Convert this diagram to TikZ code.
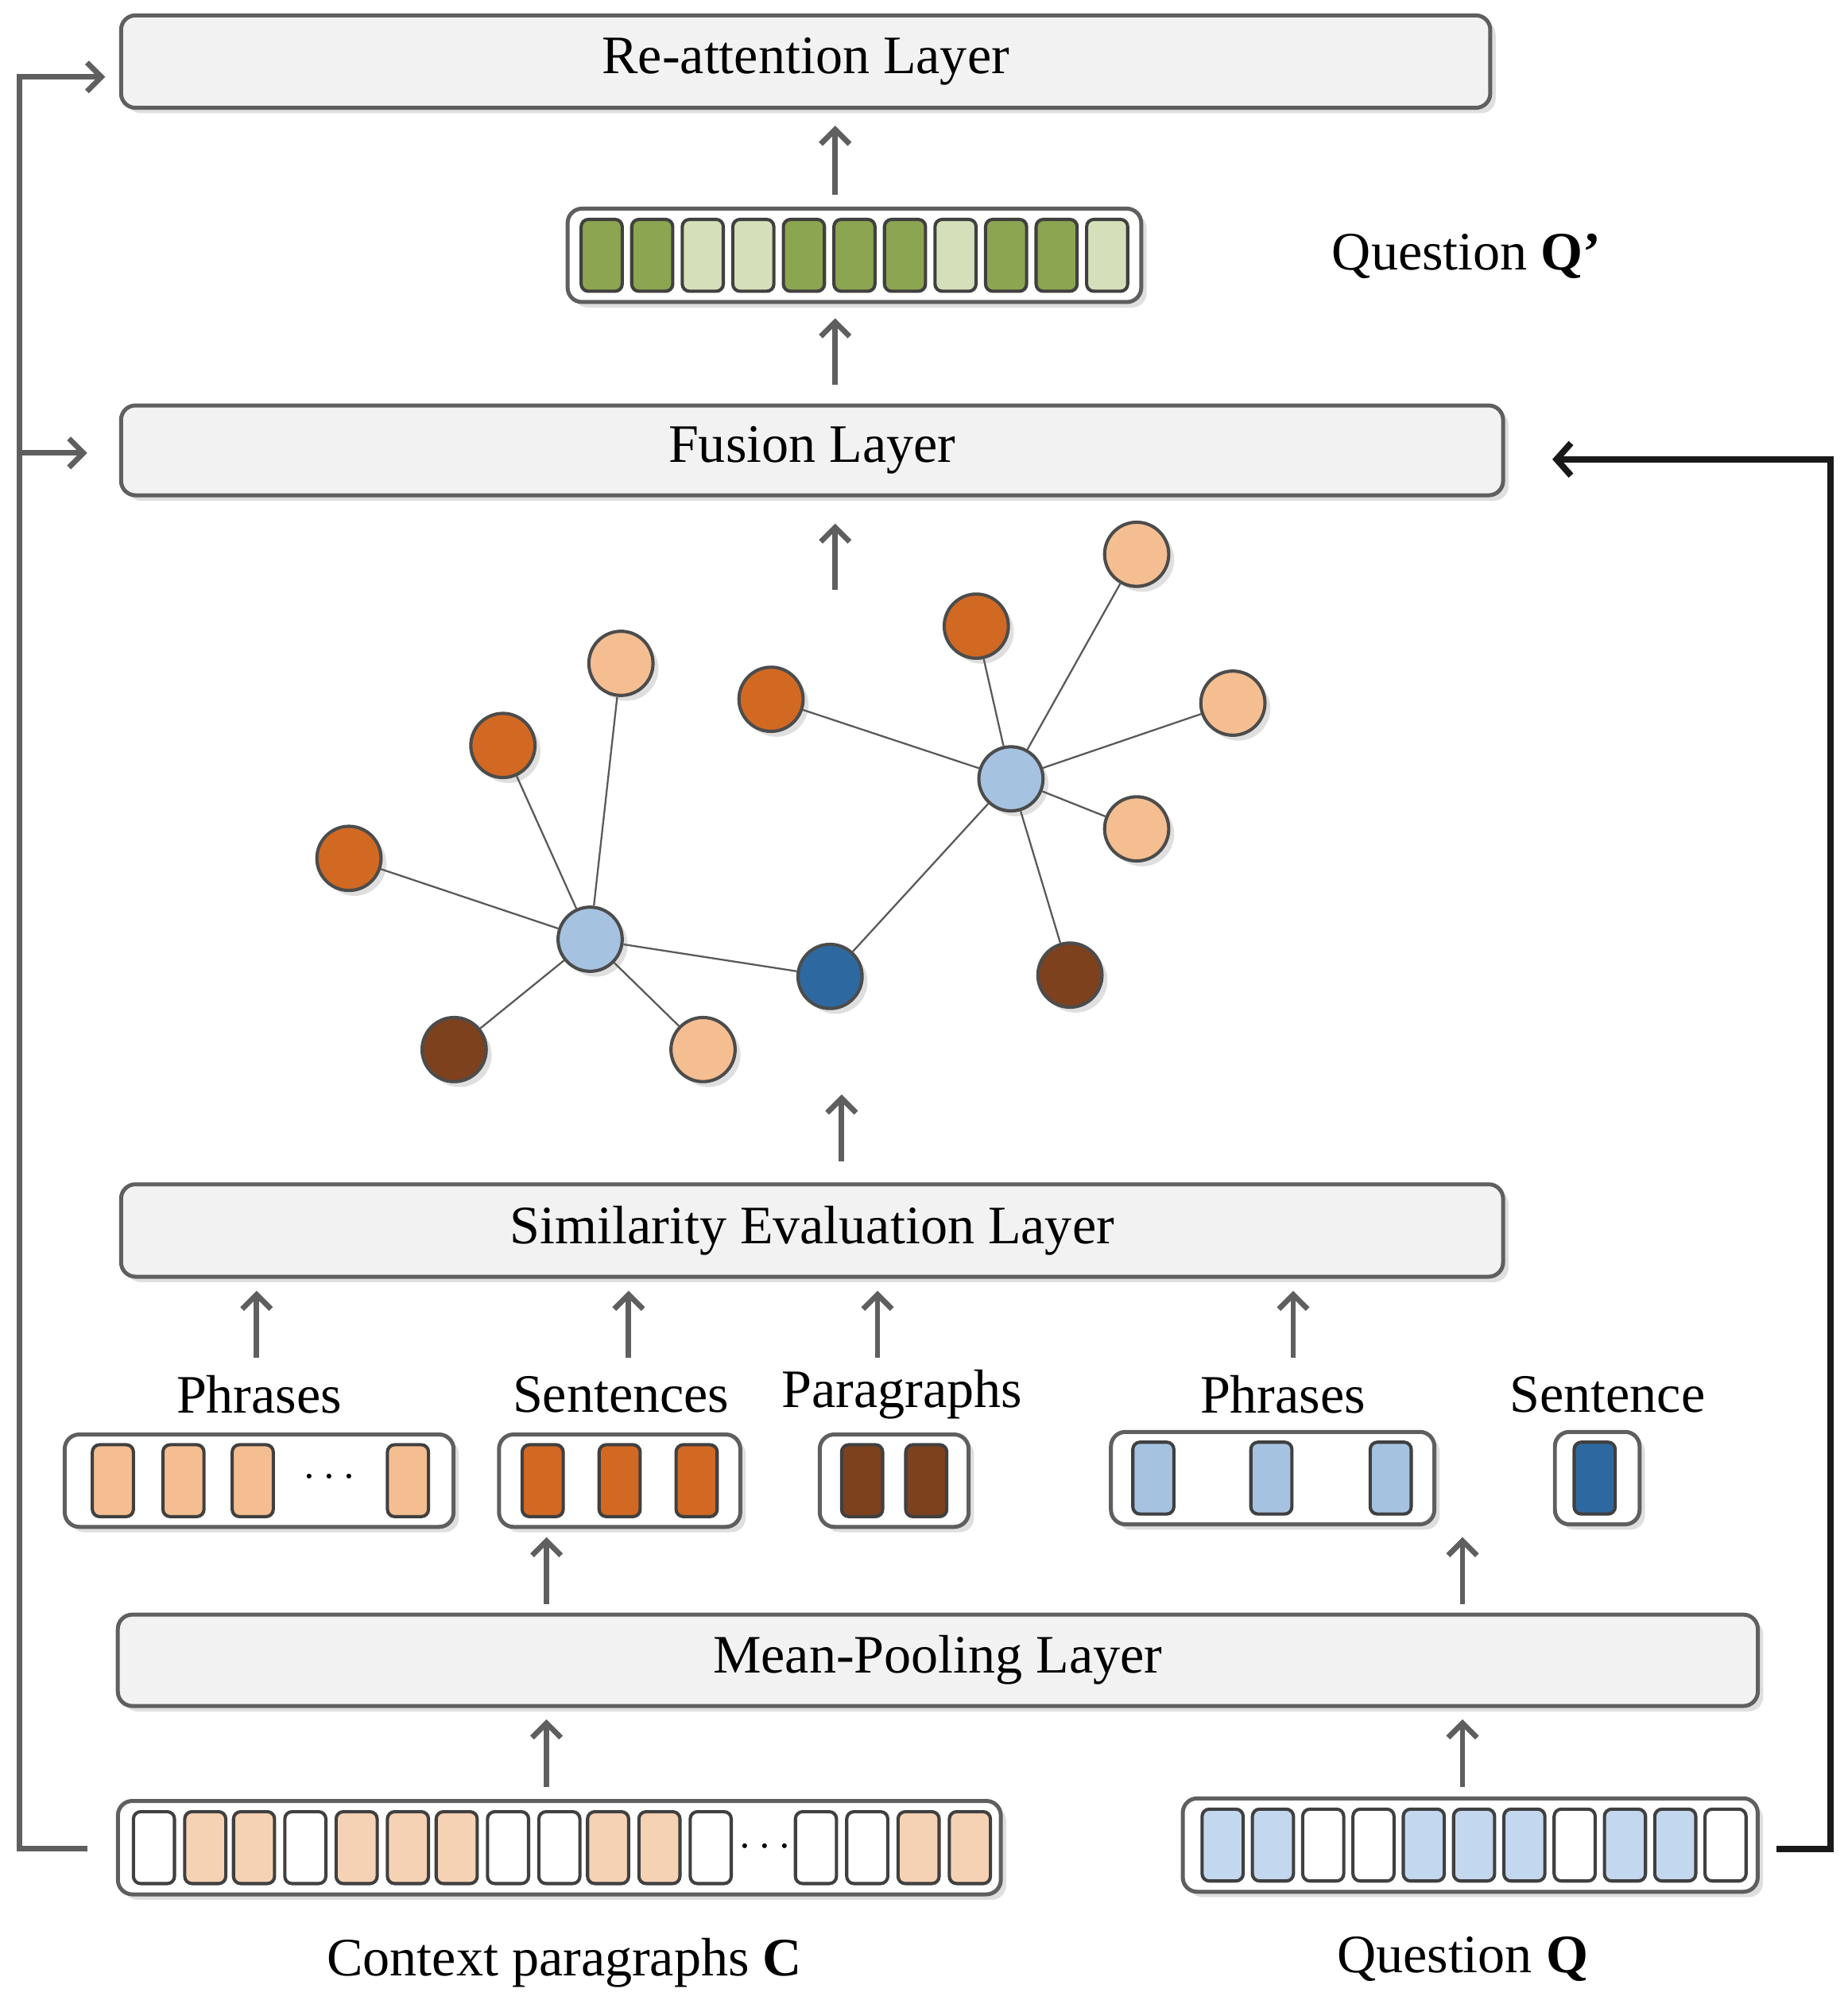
\documentclass[tikz,border=0pt]{standalone}
\usepackage{fontspec}
\setmainfont{Liberation Serif}
\usetikzlibrary{arrows.meta,shadows}
\definecolor{lor}{RGB}{245,190,145}
\definecolor{orn}{RGB}{210,105,35}
\definecolor{brn}{RGB}{125,65,30}
\definecolor{lbl}{RGB}{165,195,225}
\definecolor{dbl}{RGB}{45,105,160}
\definecolor{grn}{RGB}{140,165,80}
\definecolor{lgr}{RGB}{213,223,185}
\definecolor{cor}{RGB}{245,210,180}
\definecolor{qbl}{RGB}{195,215,238}
\definecolor{lnc}{RGB}{95,95,95}
\tikzset{
 layer/.style={draw=lnc,line width=2.2pt,rounded corners=8pt,fill=gray!10,drop shadow={shadow xshift=3pt,shadow yshift=-3pt,opacity=0.25},inner sep=0pt},
 vbox/.style={draw=lnc,line width=2.2pt,rounded corners=8pt,fill=white,drop shadow={shadow xshift=3pt,shadow yshift=-3pt,opacity=0.25},inner sep=0pt},
 cell/.style={draw=black!75,line width=1.8pt,rounded corners=4pt,minimum width=0.8cm,minimum height=1.4cm,inner sep=0pt},
 up/.style={draw=lnc,line width=3pt,-{Straight Barb[length=8pt,width=16pt]}},
 gn/.style={circle,draw=black!70,line width=1.8pt,minimum size=1.25cm,inner sep=0pt,drop shadow={shadow xshift=3pt,shadow yshift=-3pt,opacity=0.25}},
 ge/.style={draw=black!65,line width=1pt},
 lbl/.style={font=\fontsize{30}{36}\selectfont,inner sep=0pt},
}
\begin{document}
\begin{tikzpicture}[x=0.025cm,y=-0.025cm]
\useasboundingbox (0,0) rectangle (1440,1565);
% layers
\node[layer,minimum width=26.675cm,minimum height=1.8cm] (re) at (628,48) {};
\node[lbl] (ret) at (628,48) {Re-attention Layer};
\node[layer,minimum width=26.925cm,minimum height=1.75cm] (fu) at (633,351) {};
\node[lbl] (fut) at (633,351) {Fusion Layer};
\node[layer,minimum width=26.925cm,minimum height=1.8cm] (si) at (633,959) {};
\node[lbl] (sit) at (633,959) {Similarity Evaluation Layer};
\node[layer,minimum width=31.95cm,minimum height=1.78cm] (mp) at (731,1294) {};
\node[lbl] (mpt) at (731,1294) {Mean-Pooling Layer};
% Q' vector
\node[vbox,minimum width=11.175cm,minimum height=1.82cm] (qp) at (666,199) {};
\foreach \c [count=\i] in {grn,grn,lgr,lgr,grn,grn,grn,lgr,grn,grn,lgr}
  \node[cell,fill=\c] (qp\i) at ({469+39.4*(\i-1)},199) {};
\node[lbl,anchor=west] (qpl) at (1038,200) {Question \textbf{Q'}};
% arrows middle
\coordinate (a1s) at (651,152); \coordinate (a1e) at (651,98);
\draw[up] (a1s) -- (a1e);
\coordinate (a2s) at (651,300); \coordinate (a2e) at (651,248);
\draw[up] (a2s) -- (a2e);
\coordinate (a3s) at (651,460); \coordinate (a3e) at (651,408);
\draw[up] (a3s) -- (a3e);
\coordinate (a4s) at (656,905); \coordinate (a4e) at (656,853);
\draw[up] (a4s) -- (a4e);
% graph
\node[gn,fill=lbl] (h1) at (460,732) {};
\node[gn,fill=lbl] (h2) at (788,607) {};
\node[gn,fill=dbl] (db) at (647,761) {};
\node[gn,fill=lor] (n1) at (484,517) {};
\node[gn,fill=orn] (n2) at (392,581) {};
\node[gn,fill=orn] (n3) at (272,669) {};
\node[gn,fill=brn] (n4) at (354,818) {};
\node[gn,fill=lor] (n5) at (548,818) {};
\node[gn,fill=orn] (m1) at (601,545) {};
\node[gn,fill=orn] (m2) at (761,488) {};
\node[gn,fill=lor] (m3) at (886,432) {};
\node[gn,fill=lor] (m4) at (961,548) {};
\node[gn,fill=lor] (m5) at (886,646) {};
\node[gn,fill=brn] (m6) at (834,760) {};
\begin{scope}[on background layer/.try]
\end{scope}
\foreach \n in {n1,n2,n3,n4,n5,db} \draw[ge] (h1) -- (\n);
\foreach \n in {m1,m2,m3,m4,m5,m6,db} \draw[ge] (h2) -- (\n);
% sim arrows
\foreach \x [count=\i] in {200,490,684,1008}{
  \coordinate (s\i s) at (\x,1058); \coordinate (s\i e) at (\x,1006);
  \draw[up] (s\i s) -- (s\i e);}
\node[lbl] (l1) at (202,1087) {Phrases};
\node[lbl] (l2) at (484,1087) {Sentences};
\node[lbl] (l3) at (703,1087) {Paragraphs};
\node[lbl] (l4) at (1000,1087) {Phrases};
\node[lbl] (l5) at (1253,1087) {Sentence};
% row vectors
\node[vbox,minimum width=7.575cm,minimum height=1.8cm] (b1) at (202,1154) {};
\foreach \x [count=\i] in {88,143,197,318} \node[cell,fill=lor] (b1c\i) at (\x,1154) {};
\node[lbl] (b1d) at (257,1152) {$\cdots$};
\node[vbox,minimum width=4.7cm,minimum height=1.8cm] (b2) at (483,1154) {};
\foreach \x [count=\i] in {423,483,543} \node[cell,fill=orn] (b2c\i) at (\x,1154) {};
\node[vbox,minimum width=2.9cm,minimum height=1.8cm] (b3) at (697,1154) {};
\foreach \x [count=\i] in {672,722} \node[cell,fill=brn] (b3c\i) at (\x,1154) {};
\node[vbox,minimum width=6.3cm,minimum height=1.8cm] (b4) at (992,1152) {};
\foreach \x [count=\i] in {899,991,1084} \node[cell,fill=lbl] (b4c\i) at (\x,1152) {};
\node[vbox,minimum width=1.65cm,minimum height=1.8cm] (b5) at (1245,1152) {};
\node[cell,fill=dbl] (b5c) at (1243,1152) {};
% arrows mp
\foreach \x [count=\i] in {426,1140}{
  \coordinate (p\i s) at (\x,1250); \coordinate (p\i e) at (\x,1198);
  \draw[up] (p\i s) -- (p\i e);
  \coordinate (q\i s) at (\x,1393); \coordinate (q\i e) at (\x,1340);
  \draw[up] (q\i s) -- (q\i e);}
% context vector
\node[vbox,minimum width=17.2cm,minimum height=1.82cm] (cv) at (436,1440) {};
\foreach \x/\c [count=\i] in {120/white,160/cor,198/cor,238/white,278/cor,318/cor,356/cor,396/white,436/white,474/cor,514/cor,554/white,636/white,676/white,716/cor,756/cor}
  \node[cell,fill=\c] (cc\i) at (\x,1440) {};
\node[lbl] (cvd) at (596,1440) {$\cdots$};
\node[lbl] (cvl) at (440,1530) {Context paragraphs \textbf{C}};
% question vector
\node[vbox,minimum width=11.2cm,minimum height=1.82cm] (qv) at (1146,1438) {};
\foreach \c [count=\i] in {qbl,qbl,white,white,qbl,qbl,qbl,white,qbl,qbl,white}
  \node[cell,fill=\c] (qc\i) at ({953+39.2*(\i-1)},1438) {};
\node[lbl] (qvl) at (1140,1527) {Question \textbf{Q}};
% feedback lines
\coordinate (fl0) at (68,1441); \coordinate (fl1) at (15,1441);
\coordinate (fl2) at (15,60); \coordinate (fl3) at (82,60);
\coordinate (fb1) at (15,353); \coordinate (fb2) at (68,353);
\draw[up] (fl0) -- (fl1) -- (fl2) -- (fl3);
\draw[up] (fb1) -- (fb2);
\coordinate (fr0) at (1385,1441); \coordinate (fr1) at (1427,1441);
\coordinate (fr2) at (1427,358); \coordinate (fr3) at (1210,358);
\draw[draw=black!90,line width=3.5pt,-{Straight Barb[length=8pt,width=18pt]}] (fr0) -- (fr1) -- (fr2) -- (fr3);
\end{tikzpicture}
\end{document}
